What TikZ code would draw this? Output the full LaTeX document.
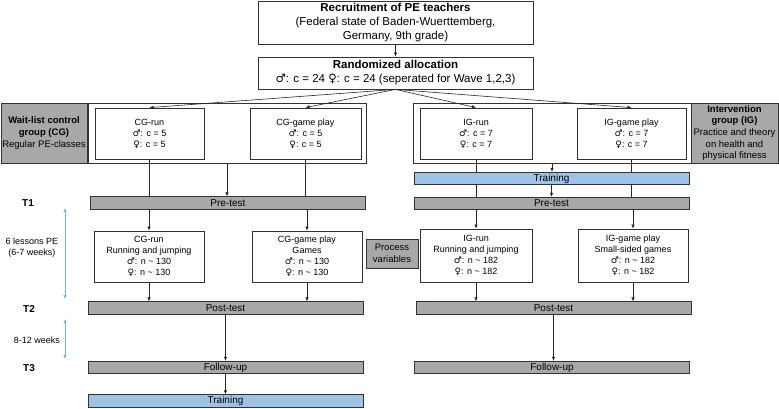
\documentclass[tikz,border=0pt]{standalone}
\usepackage{fontspec}
\setmainfont{Liberation Sans}
\newfontfamily\symfont{DejaVu Sans}
\usetikzlibrary{arrows.meta,positioning,calc}
\definecolor{bargray}{HTML}{A9A7A7}
\definecolor{trainblue}{HTML}{9DC3E6}
\definecolor{timeblue}{HTML}{7FB0DA}
\definecolor{edgegray}{HTML}{333333}
\newcommand{\boys}{{\symfont ♂}}
\newcommand{\girls}{{\symfont ♀}}

\begin{document}
\begin{tikzpicture}[
    x=1pt, y=-1pt,
    every node/.style={font=\fontsize{9}{11}\selectfont},
    headbox/.style={rectangle, draw=edgegray, fill=white, line width=0.8pt,
                    minimum width=275, align=center, inner sep=0pt,
                    font=\fontsize{11.5}{14}\selectfont},
    groupbox/.style={rectangle, draw=edgegray, fill=white, line width=0.8pt,
                     minimum height=60, minimum width=278, inner sep=0pt},
    armbox/.style={rectangle, draw=edgegray, fill=white, line width=0.8pt,
                   align=center, inner sep=0pt},
    labelbox/.style={rectangle, draw=edgegray, fill=bargray, line width=0.8pt,
                     align=center, inner sep=0pt,
                     font=\fontsize{9.5}{11.7}\selectfont},
    bar/.style={rectangle, draw=edgegray, fill=bargray, line width=0.8pt,
                minimum width=275, minimum height=12.5, inner sep=0pt,
                font=\fontsize{10}{12}\selectfont},
    trainbar/.style={bar, fill=trainblue},
    timelabel/.style={font=\bfseries\fontsize{10}{12}\selectfont},
    arr/.style={-{Latex[length=4pt,width=3.5pt]}, line width=0.6pt, black!85},
    plain/.style={line width=0.6pt, black!85},
    span/.style={{Latex[length=4pt,width=3.5pt]}-{Latex[length=4pt,width=3.5pt]},
                 line width=0.8pt, timeblue},
]
\useasboundingbox (0,0) rectangle (779,408);

% Recruitment and allocation
\node[headbox, minimum height=43] (recruit) at (395.5,22.5)
  {\textbf{Recruitment of PE teachers}\\(Federal state of Baden-Wuerttemberg,\\Germany, 9th grade)};
\node[headbox, minimum height=32] (alloc) at (395.5,73)
  {\textbf{Randomized allocation}\\\boys: c = 24 \girls: c = 24 (seperated for Wave 1,2,3)};

% Groups
\node[groupbox] (cgouter) at (227,133) {};
\node[labelbox, minimum width=86, minimum height=60] (cglabel) at (44,133)
  {\textbf{Wait-list control}\\\textbf{group (CG)}\\Regular PE-classes};
\node[armbox, minimum width=109, minimum height=51] (cgrun) at (149.5,133.5)
  {CG-run\\\boys: c = 5\\\girls: c = 5};
\node[armbox, minimum width=111, minimum height=51] (cggame) at (305.5,133.5)
  {CG-game play\\\boys: c = 5\\\girls: c = 5};

\node[groupbox] (igouter) at (552,133) {};
\node[labelbox, minimum width=87, minimum height=60] (iglabel) at (734.5,133)
  {\textbf{Intervention}\\\textbf{group (IG)}\\Practice and theory\\on health and\\physical fitness};
\node[armbox, minimum width=112, minimum height=51] (igrun) at (476,133.5)
  {IG-run\\\boys: c = 7\\\girls: c = 7};
\node[armbox, minimum width=109, minimum height=51] (iggame) at (631.5,133.5)
  {IG-game play\\\boys: c = 7\\\girls: c = 7};

% Pre-test and training
\node[bar] (cgpre) at (228,203) {Pre-test};
\node[trainbar] (igtrain) at (551.5,178.5) {Training};
\node[bar] (igpre) at (551.5,203.5) {Pre-test};

% Lessons
\node[armbox, minimum width=110, minimum height=51] (cgrunpe) at (149,256.5)
  {CG-run\\Running and jumping\\\boys: n \textasciitilde{} 130\\\girls: n \textasciitilde{} 130};
\node[armbox, minimum width=110, minimum height=51] (cggamepe) at (307,256.5)
  {CG-game play\\Games\\\boys: n \textasciitilde{} 130\\\girls: n \textasciitilde{} 130};
\node[labelbox, minimum width=52, minimum height=29] (process) at (392,253.5)
  {Process\\variables};
\node[armbox, minimum width=112, minimum height=53] (igrunpe) at (476,255.5)
  {IG-run\\Running and jumping\\\boys: n \textasciitilde{} 182\\\girls: n \textasciitilde{} 182};
\node[armbox, minimum width=110, minimum height=53] (iggamepe) at (633,255.5)
  {IG-game play\\Small-sided games\\\boys: n \textasciitilde{} 182\\\girls: n \textasciitilde{} 182};

% Post-test, follow-up
\node[bar] (cgpost) at (225.5,308) {Post-test};
\node[bar] (igpost) at (553.5,308) {Post-test};
\node[bar] (cgfollow) at (225.5,367.5) {Follow-up};
\node[bar] (igfollow) at (552,367.5) {Follow-up};
\node[trainbar] (cgtrain) at (225.5,401) {Training};

% Time line
\node[timelabel] (t1) at (28,203) {T1};
\node[timelabel] (t2) at (29,309) {T2};
\node[timelabel] (t3) at (29,368) {T3};
\node[align=center] (lessons) at (32,248) {6 lessons PE\\(6-7 weeks)};
\node (weeks) at (37,340) {8-12 weeks};
\coordinate (s1top) at (65,208);
\coordinate (s1bot) at (65,299);
\coordinate (s2top) at (65,319);
\coordinate (s2bot) at (65,359);
\draw[span] (s1top) -- (s1bot);
\draw[span] (s2top) -- (s2bot);

% Allocation arrows
\foreach \arm in {cgrun,cggame,igrun,iggame}
  \draw[arr] (alloc.south) -- (\arm.north);
\draw[arr] (recruit) -- (alloc);

% CG flow
\foreach \arm in {cgrun,cggame}
  \draw[plain] (\arm.south) -- (\arm.south |- cgpre.north);
\draw[arr] (cgouter.south) -- (cgouter.south |- cgpre.north);
\foreach \arm in {cgrunpe,cggamepe} {
  \draw[arr] (cgpre.south -| \arm.north) -- (\arm.north);
  \draw[arr] (\arm.south) -- (\arm.south |- cgpost.north);
}
\draw[arr] (cgpost) -- (cgfollow);
\draw[arr] (cgfollow) -- (cgtrain);

% IG flow
\foreach \arm in {igrun,iggame} {
  \draw[plain] (\arm.south) -- (\arm.south |- igtrain.north);
  \draw[plain] (igtrain.south -| \arm.south) -- (igpre.north -| \arm.south);
}
\draw[arr] (igouter.south) -- (igouter.south |- igtrain.north);
\draw[arr] (igtrain) -- (igpre);
\foreach \arm in {igrunpe,iggamepe} {
  \draw[arr] (igpre.south -| \arm.north) -- (\arm.north);
  \draw[arr] (\arm.south) -- (\arm.south |- igpost.north);
}
\draw[arr] (igpost.south) -- (igpost.south |- igfollow.north);

\end{tikzpicture}
\end{document}
